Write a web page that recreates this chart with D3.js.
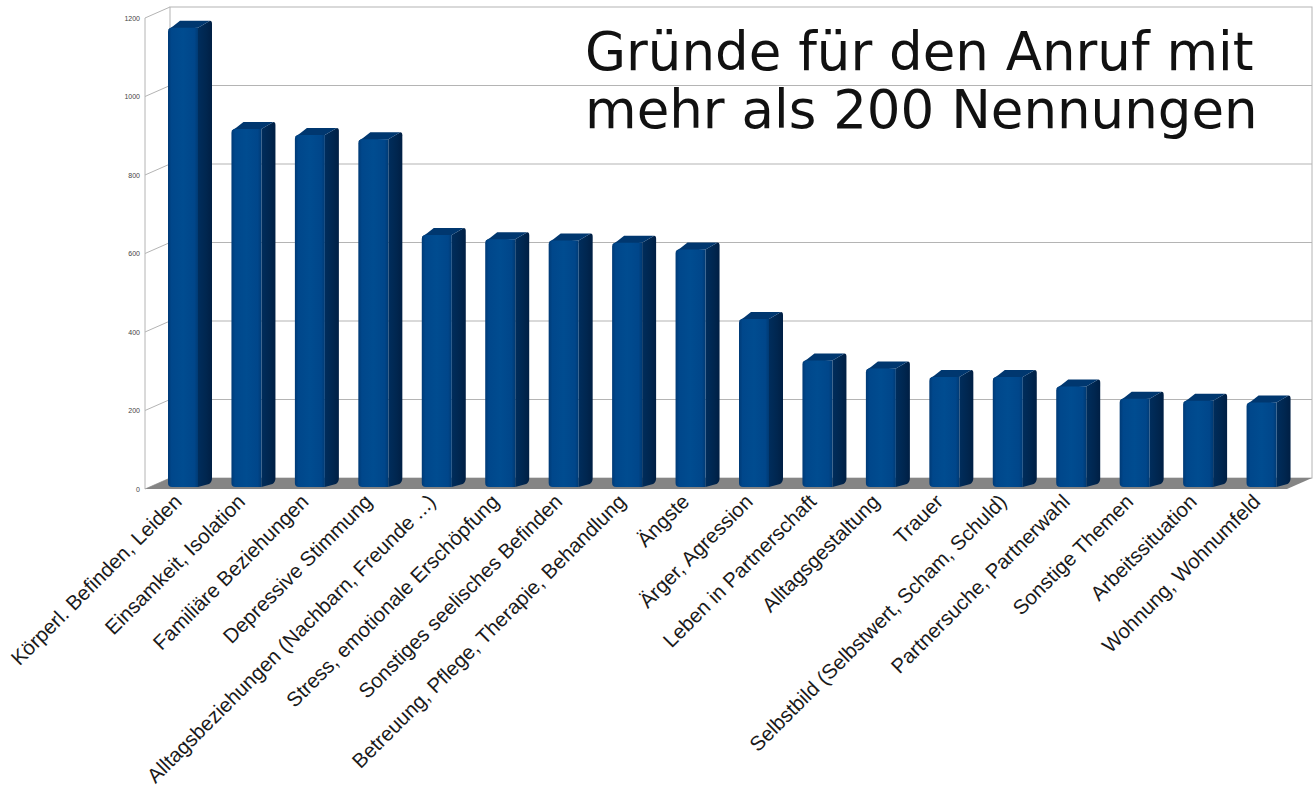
<!DOCTYPE html>
<html>
<head>
<meta charset="utf-8">
<script src="https://cdn.jsdelivr.net/npm/d3@7"></script>
<style>
  body { margin: 0; background: #fff; }
  svg { display: block; }
</style>
</head>
<body>
<script>
// Chart data
const categories = [
  'Körperl. Befinden, Leiden',
  'Einsamkeit, Isolation',
  'Familiäre Beziehungen',
  'Depressive Stimmung',
  'Alltagsbeziehungen (Nachbarn, Freunde ...)',
  'Stress, emotionale Erschöpfung',
  'Sonstiges seelisches Befinden',
  'Betreuung, Pflege, Therapie, Behandlung',
  'Ängste',
  'Ärger, Agression',
  'Leben in Partnerschaft',
  'Alltagsgestaltung',
  'Trauer',
  'Selbstbild (Selbstwert, Scham, Schuld)',
  'Partnersuche, Partnerwahl',
  'Sonstige Themen',
  'Arbeitssituation',
  'Wohnung, Wohnumfeld'
];
const values = [1170, 912, 897, 886, 642, 631, 628, 622, 605, 428, 322, 302, 280, 280, 256, 225, 220, 215];
const yTicks = [0, 200, 400, 600, 800, 1000, 1200];
const titleLines = ['Gründe für den Anruf mit', 'mehr als 200 Nennungen'];

const width = 1314, height = 794;
// front plane of the 3D box
const plotLeft = 145, plotRight = 1287, plotBottom = 489, plotTop = 18;
// depth offset of the back wall
const DX = 25, DY = -11;

const svg = d3.select('body').append('svg')
  .attr('width', width)
  .attr('height', height);

const defs = svg.append('defs');
const frontGrad = defs.append('linearGradient').attr('id', 'front').attr('x1', 0).attr('x2', 1).attr('y1', 0).attr('y2', 0);
[[0, '#003a76'], [0.12, '#00478b'], [0.5, '#004c90'], [0.88, '#00468a'], [1, '#003a74']]
  .forEach(([o, c]) => frontGrad.append('stop').attr('offset', o).attr('stop-color', c));
const sideGrad = defs.append('linearGradient').attr('id', 'side').attr('x1', 0).attr('x2', 1).attr('y1', 0).attr('y2', 0);
[[0, '#002d5c'], [0.6, '#00264f'], [1, '#001f44']]
  .forEach(([o, c]) => sideGrad.append('stop').attr('offset', o).attr('stop-color', c));

const x = d3.scaleBand().domain(categories).range([plotLeft, plotRight]);
const y = d3.scaleLinear().domain([0, 1200]).range([plotBottom, plotTop]);

const gridColor = '#b4b4b4';

// back wall
svg.append('rect')
  .attr('x', plotLeft + DX).attr('y', y(1200) + DY)
  .attr('width', plotRight - plotLeft).attr('height', y(0) - y(1200))
  .attr('fill', '#fff').attr('stroke', gridColor).attr('stroke-width', 1);

// gridlines on back wall
svg.append('g').selectAll('line')
  .data(yTicks.slice(1, -1))
  .join('line')
  .attr('x1', plotLeft + DX).attr('x2', plotRight + DX)
  .attr('y1', d => y(d) + DY).attr('y2', d => y(d) + DY)
  .attr('stroke', gridColor).attr('stroke-width', 1.2);

// left wall
const wall = svg.append('g').attr('stroke', gridColor).attr('stroke-width', 1);
wall.selectAll('line.tick')
  .data(yTicks)
  .join('line')
  .attr('class', 'tick')
  .attr('x1', plotLeft).attr('y1', d => y(d))
  .attr('x2', plotLeft + DX).attr('y2', d => y(d) + DY);
wall.append('line')
  .attr('x1', plotLeft).attr('x2', plotLeft)
  .attr('y1', y(1200)).attr('y2', y(0));

// floor
svg.append('path')
  .attr('d', `M${plotLeft},${y(0)} L${plotRight},${y(0)} L${plotRight + DX},${y(0) + DY} L${plotLeft + DX},${y(0) + DY} Z`)
  .attr('fill', '#858585');

// y tick labels
svg.append('g').selectAll('text')
  .data(yTicks)
  .join('text')
  .attr('x', 140)
  .attr('y', d => y(d) + 2.5)
  .attr('text-anchor', 'end')
  .attr('font-family', '"Liberation Sans", Arial, sans-serif')
  .attr('font-size', 7)
  .attr('fill', '#444')
  .text(d => d);

// 3D bars
const faceW = 30, sideDX = 14, sideDY = -7, faceOff = 23, baseY = y(0) - 2;
const bars = svg.append('g').selectAll('g')
  .data(categories.map((c, i) => ({ c, v: values[i] })))
  .join('g');

bars.each(function (d) {
  const g = d3.select(this);
  const x0 = x(d.c) + faceOff, x1 = x0 + faceW;
  const yt = y(d.v) - 2, yb = baseY, r = 4;
  // side
  g.append('path')
    .attr('d', `M${x1},${yt} L${x1 + sideDX - 2},${yt + sideDY} Q${x1 + sideDX},${yt + sideDY} ${x1 + sideDX},${yt + sideDY + 3}
      L${x1 + sideDX},${yb + sideDY - 2} Q${x1 + sideDX},${yb + sideDY + 2} ${x1 + sideDX - 3},${yb + sideDY + 4}
      L${x1},${yb} Z`)
    .attr('fill', 'url(#side)');
  // top
  g.append('path')
    .attr('d', `M${x0},${yt + 2} Q${x0 + 2},${yt} ${x0 + 5},${yt - 1.5} L${x0 + sideDX - 2},${yt + sideDY}
      L${x1 + sideDX - 2},${yt + sideDY} L${x1},${yt} Z`)
    .attr('fill', '#00376f');
  // front face
  g.append('path')
    .attr('d', `M${x0},${yb - r} L${x0},${yt + r} Q${x0},${yt} ${x0 + r},${yt} L${x1},${yt}
      L${x1},${yb} L${x0 + r},${yb} Q${x0},${yb} ${x0},${yb - r} Z`)
    .attr('fill', 'url(#front)');
});

// x labels
svg.append('g').selectAll('text')
  .data(categories)
  .join('text')
  .attr('transform', d => `translate(${x(d) + faceOff + faceW / 2},${y(0) + 14}) rotate(-45)`)
  .attr('text-anchor', 'end')
  .attr('font-family', '"Liberation Sans", Arial, sans-serif')
  .attr('font-size', 20.5)
  .attr('fill', '#1a1a1a')
  .text(d => d);

// title
svg.append('g').selectAll('text')
  .data(titleLines)
  .join('text')
  .attr('x', 585)
  .attr('y', (d, i) => 70 + i * 58)
  .attr('font-family', '"DejaVu Sans", sans-serif')
  .attr('font-size', 53)
  .attr('fill', '#111')
  .text(d => d);
</script>
</body>
</html>
